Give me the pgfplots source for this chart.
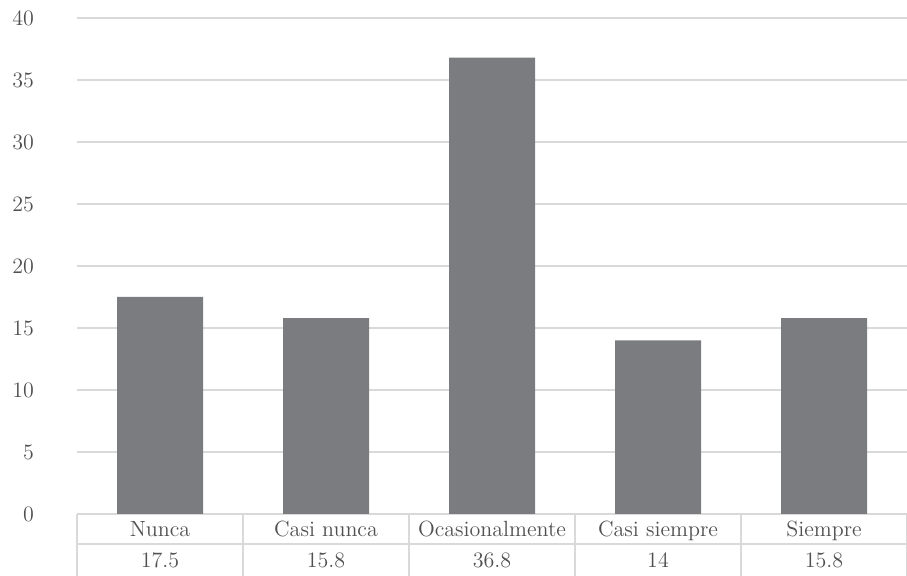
\documentclass[border=0pt]{standalone}
\usepackage{pgfplots}
\pgfplotsset{compat=1.18}
\definecolor{barc}{HTML}{7B7C7F}
\definecolor{gridc}{HTML}{D9D9D9}
\definecolor{txt}{HTML}{505050}
\begin{document}
\begin{tikzpicture}
\begin{axis}[
  scale only axis, width=415pt, height=248pt,
  xmin=-0.5, xmax=4.5, ymin=0, ymax=40,
  ytick={0,5,...,40},
  xtick={0,1,2,3,4},
  xticklabels={{Nunca\\17.5},{Casi nunca\\15.8},{Ocasionalmente\\36.8},{Casi siempre\\14},{Siempre\\15.8}},
  ymajorgrids, grid style={gridc, line width=0.8pt},
  axis line style={draw=none}, major tick length=0pt,
  tick label style={txt, font=\fontsize{11}{15.5}\selectfont},
  /pgf/number format/assume math mode=true,
  xticklabel style={align=center, anchor=center, yshift=-15.25pt},
  yticklabel style={anchor=east, xshift=-18pt},
  clip=false,
]
\addplot[ybar, bar width=43pt, fill=barc, draw=none] coordinates {(0,17.5) (1,15.8) (2,36.8) (3,14) (4,15.8)};
\draw[gridc, line width=0.8pt] ([yshift=-15pt]axis cs:-0.5,0) -- ([yshift=-15pt]axis cs:4.5,0);
\draw[gridc, line width=0.8pt] (axis cs:-0.5,0) -- ([yshift=-31pt]axis cs:-0.5,0);
\draw[gridc, line width=0.8pt] (axis cs:0.5,0) -- ([yshift=-31pt]axis cs:0.5,0);
\draw[gridc, line width=0.8pt] (axis cs:1.5,0) -- ([yshift=-31pt]axis cs:1.5,0);
\draw[gridc, line width=0.8pt] (axis cs:2.5,0) -- ([yshift=-31pt]axis cs:2.5,0);
\draw[gridc, line width=0.8pt] (axis cs:3.5,0) -- ([yshift=-31pt]axis cs:3.5,0);
\draw[gridc, line width=0.8pt] (axis cs:4.5,0) -- ([yshift=-31pt]axis cs:4.5,0);
\coordinate (bbl) at ([xshift=-38.5pt, yshift=-31pt]rel axis cs:0,0);
\coordinate (bbr) at ([yshift=9pt]rel axis cs:1,1);
\end{axis}
\pgfresetboundingbox
\path (bbl) rectangle (bbr);
\end{tikzpicture}
\end{document}
